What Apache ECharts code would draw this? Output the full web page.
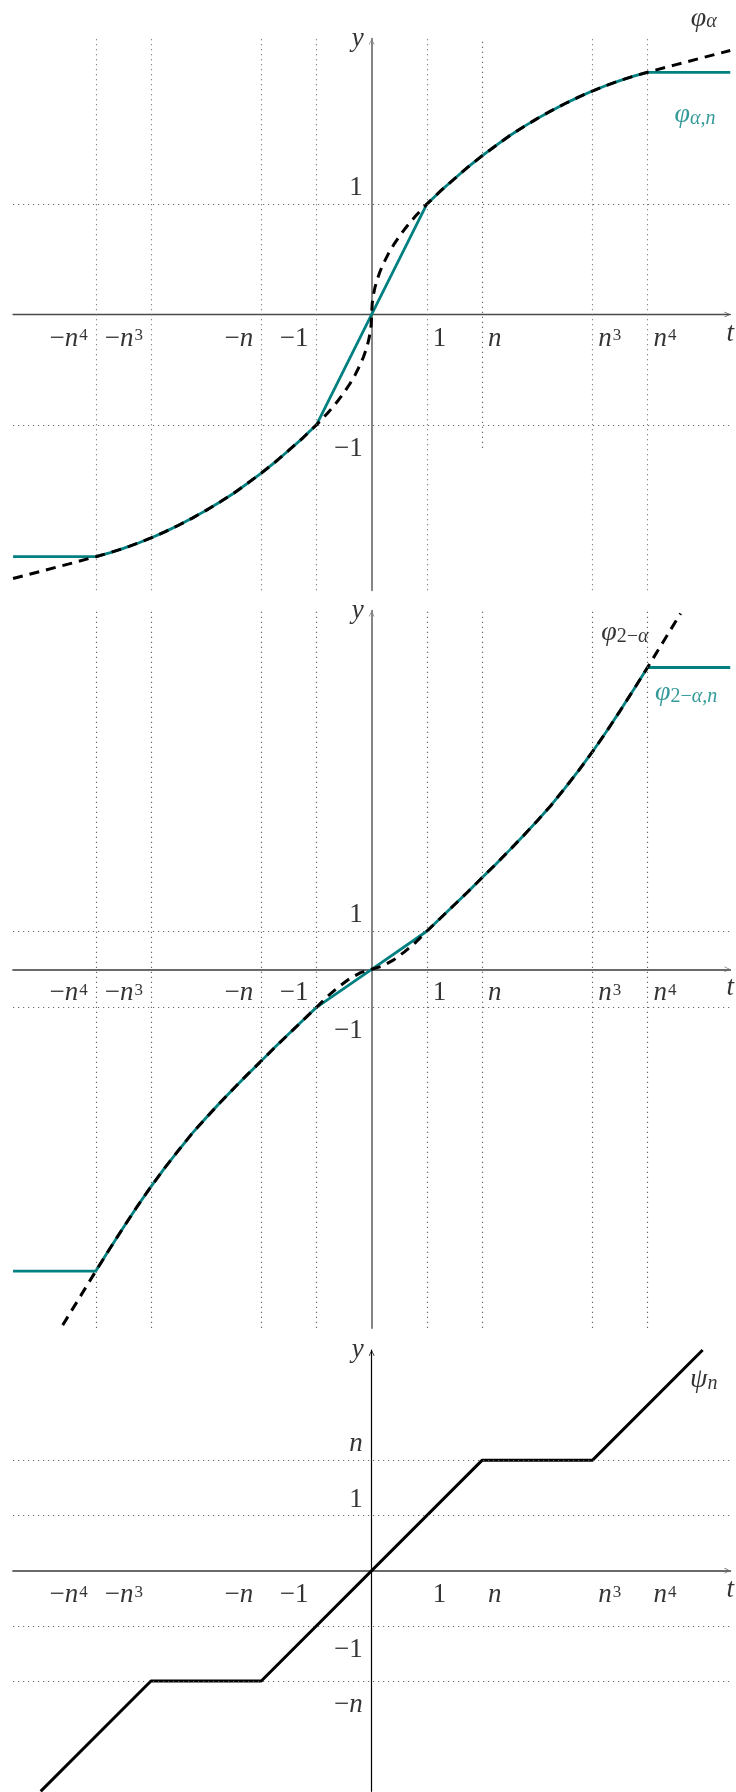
<!DOCTYPE html>
<html><head><meta charset="utf-8">
<script src="https://cdn.jsdelivr.net/npm/echarts@6/dist/echarts.min.js"></script>
<style>html,body{margin:0;padding:0;background:#fff}#c{width:736px;height:1792px}</style>
</head><body><div id="c"></div>
<script>
// ---------- data (plot units: 1 unit = one grid step) ----------
const xTickPos = [-5, -4, -2, -1, 1, 2, 4, 5];
const xTickLabels = ['−{i|n}{sup|4}', '−{i|n}{sup|3}', '−{i|n}', '−1', '1', '{i|n}', '{i|n}{sup|3}', '{i|n}{sup|4}'];
const p1YTickPos = [2, -2];
const p1YTickLabels = ['1', '−1'];
const p2YTickPos = [0.69, -0.69];
const p2YTickLabels = ['1', '−1'];
const p3YTickPos = [2, 1, -1, -2];
const p3YTickLabels = ['{i|n}', '1', '−1', '−{i|n}'];

// panel 1: phi_alpha (dashed) and phi_{alpha,n} (teal)
const phiAlpha = [[-6.5,-4.785],[-6,-4.655],[-5.5,-4.525],[-5,-4.39],[-4.75,-4.32],[-4.5,-4.24],[-4.25,-4.15],[-4,-4.05],[-3.75,-3.94],[-3.5,-3.82],[-3.25,-3.69],[-3,-3.55],[-2.75,-3.4],[-2.5,-3.24],[-2.25,-3.06],[-2,-2.875],[-1.75,-2.675],[-1.5,-2.46],[-1.25,-2.24],[-1,-2],[-0.9,-1.897],[-0.8,-1.789],[-0.7,-1.673],[-0.6,-1.549],[-0.5,-1.414],[-0.4,-1.265],[-0.3,-1.095],[-0.2,-0.894],[-0.15,-0.775],[-0.1,-0.632],[-0.06,-0.49],[-0.03,-0.346],[-0.01,-0.2],[0,0],[0.01,0.2],[0.03,0.346],[0.06,0.49],[0.1,0.632],[0.15,0.775],[0.2,0.894],[0.3,1.095],[0.4,1.265],[0.5,1.414],[0.6,1.549],[0.7,1.673],[0.8,1.789],[0.9,1.897],[1,2],[1.25,2.24],[1.5,2.46],[1.75,2.675],[2,2.875],[2.25,3.06],[2.5,3.24],[2.75,3.4],[3,3.55],[3.25,3.69],[3.5,3.82],[3.75,3.94],[4,4.05],[4.25,4.15],[4.5,4.24],[4.75,4.32],[5,4.39],[5.5,4.525],[6,4.655],[6.5,4.785]];
const phiAlphaN = [[-6.5,-4.39],[-5,-4.39],[-4.75,-4.32],[-4.5,-4.24],[-4.25,-4.15],[-4,-4.05],[-3.75,-3.94],[-3.5,-3.82],[-3.25,-3.69],[-3,-3.55],[-2.75,-3.4],[-2.5,-3.24],[-2.25,-3.06],[-2,-2.875],[-1.75,-2.675],[-1.5,-2.46],[-1.25,-2.24],[-1,-2],[0,0],[1,2],[1.25,2.24],[1.5,2.46],[1.75,2.675],[2,2.875],[2.25,3.06],[2.5,3.24],[2.75,3.4],[3,3.55],[3.25,3.69],[3.5,3.82],[3.75,3.94],[4,4.05],[4.25,4.15],[4.5,4.24],[4.75,4.32],[5,4.39],[6.5,4.39]];

// panel 2: phi_{2-alpha} (dashed) and phi_{2-alpha,n} (teal)
const phi2Alpha = [[-5.6,-6.45],[-5.3,-5.96],[-5,-5.47],[-4.75,-5.07],[-4.5,-4.68],[-4.25,-4.3],[-4,-3.94],[-3.75,-3.6],[-3.5,-3.28],[-3.25,-2.97],[-3,-2.69],[-2.75,-2.42],[-2.5,-2.16],[-2.25,-1.905],[-2,-1.66],[-1.75,-1.41],[-1.5,-1.17],[-1.25,-0.93],[-1,-0.69],[-0.8,-0.49],[-0.6,-0.32],[-0.4,-0.17],[-0.2,-0.06],[0,0],[0.2,0.06],[0.4,0.17],[0.6,0.32],[0.8,0.49],[1,0.69],[1.25,0.93],[1.5,1.17],[1.75,1.41],[2,1.66],[2.25,1.905],[2.5,2.16],[2.75,2.42],[3,2.69],[3.25,2.97],[3.5,3.28],[3.75,3.6],[4,3.94],[4.25,4.3],[4.5,4.68],[4.75,5.07],[5,5.47],[5.3,5.96],[5.6,6.45]];
const phi2AlphaN = [[-6.5,-5.47],[-5,-5.47],[-4.75,-5.07],[-4.5,-4.68],[-4.25,-4.3],[-4,-3.94],[-3.75,-3.6],[-3.5,-3.28],[-3.25,-2.97],[-3,-2.69],[-2.75,-2.42],[-2.5,-2.16],[-2.25,-1.905],[-2,-1.66],[-1.75,-1.41],[-1.5,-1.17],[-1.25,-0.93],[-1,-0.69],[0,0],[1,0.69],[1.25,0.93],[1.5,1.17],[1.75,1.41],[2,1.66],[2.25,1.905],[2.5,2.16],[2.75,2.42],[3,2.69],[3.25,2.97],[3.5,3.28],[3.75,3.6],[4,3.94],[4.25,4.3],[4.5,4.68],[4.75,5.07],[5,5.47],[6.5,5.47]];

// panel 3: psi_n
const psiN = [[-6,-4],[-4,-2],[-2,-2],[2,2],[4,2],[6,4]];

// ---------- styling / layout ----------
const FONT = '"Liberation Serif","DejaVu Serif",serif';
const TEAL = '#008080';
const U = 717.2 / 13;
const LEFT = 13.05;
const ARROW = 'path://M0,10 L5,0 L10,10 L9,10.7 L5,2.4 L1,10.7 Z';
const panels = [
  {top: 38.65, yMin: -5, yMax: 5, xc: '#4a4a4a', xw: 1.3, yc: '#858585', yw: 2},
  {top: 610.7, yMin: -6.5, yMax: 6.5, xc: '#6a6a6a', xw: 1.8, yc: '#858585', yw: 2},
  {top: 1350, yMin: -4, yMax: 4, xc: '#6a6a6a', xw: 2, yc: '#000', yw: 1.2}
];

const RICH = {
  i: {fontStyle: 'italic', fontFamily: FONT, fontSize: 27, lineHeight: 30},
  sup: {fontFamily: FONT, fontSize: 17, lineHeight: 17, verticalAlign: 'top', padding: [4, 0, 0, 1]},
  g: {fontStyle: 'italic', fontFamily: FONT, fontSize: 28, lineHeight: 30},
  sb: {fontStyle: 'italic', fontFamily: FONT, fontSize: 20, lineHeight: 20, verticalAlign: 'bottom', padding: [0, 0, 1, 0]},
  sbr: {fontFamily: FONT, fontSize: 20, lineHeight: 20, verticalAlign: 'bottom', padding: [0, 0, 1, 0]},
  gT: {fontStyle: 'italic', fontFamily: FONT, fontSize: 28, lineHeight: 30, color: TEAL},
  sbT: {fontStyle: 'italic', fontFamily: FONT, fontSize: 20, lineHeight: 20, verticalAlign: 'bottom', padding: [0, 0, 1, 0], color: TEAL},
  sbrT: {fontFamily: FONT, fontSize: 20, lineHeight: 20, verticalAlign: 'bottom', padding: [0, 0, 1, 0], color: TEAL}
};

const grid = panels.map(p => ({left: LEFT, top: p.top, width: 13 * U, height: (p.yMax - p.yMin) * U}));
const xAxis = panels.map((p, i) => ({
  type: 'value', gridIndex: i, min: -6.5, max: 6.5,
  axisLine: {show: true, onZero: true, symbol: ['none', ARROW], symbolSize: [8, 6], symbolOffset: [0, -3],
    lineStyle: {color: p.xc, width: p.xw}},
  axisTick: {show: false}, axisLabel: {show: false}, splitLine: {show: false}
}));
const yAxis = panels.map((p, i) => ({
  type: 'value', gridIndex: i, min: p.yMin, max: p.yMax,
  axisLine: {show: true, onZero: true, symbol: ['none', ARROW], symbolSize: [8, 6], symbolOffset: [0, -3],
    lineStyle: {color: p.yc, width: p.yw}},
  axisTick: {show: false}, axisLabel: {show: false}, splitLine: {show: false}
}));

const DOT = {color: '#666', width: 1.15, type: [1.15, 3.85]};
function gridLines(gi, vFrom, vTo, hPos, vSpecial) {
  const d = [];
  xTickPos.forEach(x => {
    const sp = vSpecial && vSpecial[x];
    d.push([{coord: [x, sp !== undefined ? sp : vFrom]}, {coord: [x, vTo]}]);
  });
  hPos.forEach(y => d.push([{coord: [-6.5, y]}, {coord: [6.5, y]}]));
  return {
    type: 'line', xAxisIndex: gi, yAxisIndex: gi, data: [[0, 0]], showSymbol: false, silent: true,
    lineStyle: {opacity: 0}, z: 1,
    markLine: {symbol: ['none', 'none'], silent: true, animation: false, label: {show: false},
      lineStyle: DOT, emphasis: {disabled: true}, data: d}
  };
}

function labels(gi, items) {
  return {
    type: 'scatter', xAxisIndex: gi, yAxisIndex: gi, symbolSize: 0, clip: false, silent: true, z: 10,
    label: {show: true, fontFamily: FONT, fontSize: 27, lineHeight: 30, color: '#000', rich: RICH},
    data: items.map(it => ({value: it.v, label: Object.assign({formatter: it.t}, it.l)}))
  };
}
function tickItems(yPos, yLabels, yMax) {
  const out = [];
  xTickPos.forEach((x, k) => out.push({v: [x, 0], t: xTickLabels[k],
    l: x < 0 ? {position: 'left', distance: 8, offset: [0, 24]} : {position: 'right', distance: 6, offset: [0, 24]}}));
  yPos.forEach((y, k) => out.push({v: [0, y], t: yLabels[k],
    l: {position: 'left', distance: 9, offset: [0, y > 0 ? -16 : 24]}}));
  out.push({v: [6.5, 0], t: '{i|t}', l: {position: 'inside', offset: [0, 19]}});
  out.push({v: [0, yMax], t: '{i|y}', l: {position: 'left', distance: 8, offset: [0, 0]}});
  return out;
}

const dashed = {color: '#000', width: 3, type: [10, 7]};
const series = [
  gridLines(0, -5, 5, p1YTickPos, {2: -2.42}),
  gridLines(1, -6.5, 6.5, p2YTickPos),
  gridLines(2, -4.05, 4, p3YTickPos),
  {type: 'line', xAxisIndex: 0, yAxisIndex: 0, data: phiAlphaN, showSymbol: false,
    lineStyle: {color: TEAL, width: 2.8}, z: 3},
  {type: 'line', xAxisIndex: 0, yAxisIndex: 0, data: phiAlpha, showSymbol: false,
    lineStyle: dashed, z: 4},
  {type: 'line', xAxisIndex: 1, yAxisIndex: 1, data: phi2AlphaN, showSymbol: false,
    lineStyle: {color: TEAL, width: 2.8}, z: 3},
  {type: 'line', xAxisIndex: 1, yAxisIndex: 1, data: phi2Alpha, showSymbol: false,
    lineStyle: dashed, z: 4},
  {type: 'line', xAxisIndex: 2, yAxisIndex: 2, data: psiN, showSymbol: false,
    lineStyle: {color: '#000', width: 3}, z: 4},
  labels(0, tickItems(p1YTickPos, p1YTickLabels, 5).concat([
    {v: [6.02, 5.37], t: '{g|φ}{sb|α}', l: {position: 'inside'}},
    {v: [5.86, 3.62], t: '{gT|φ}{sbT|α,n}', l: {position: 'inside'}}
  ])),
  labels(1, tickItems(p2YTickPos, p2YTickLabels, 6.5).concat([
    {v: [4.59, 6.1], t: '{g|φ}{sbr|2−}{sb|α}', l: {position: 'inside'}},
    {v: [5.7, 5.01], t: '{gT|φ}{sbrT|2−}{sbT|α,n}', l: {position: 'inside'}}
  ])),
  labels(2, tickItems(p3YTickPos, p3YTickLabels, 4).concat([
    {v: [6.02, 3.46], t: '{g|ψ}{sb|n}', l: {position: 'inside'}}
  ]))
];

const chart = echarts.init(document.getElementById('c'), null, {renderer: 'canvas', width: 736, height: 1792});
chart.setOption({animation: false, backgroundColor: '#fff', grid, xAxis, yAxis, series});
</script>
</body></html>
